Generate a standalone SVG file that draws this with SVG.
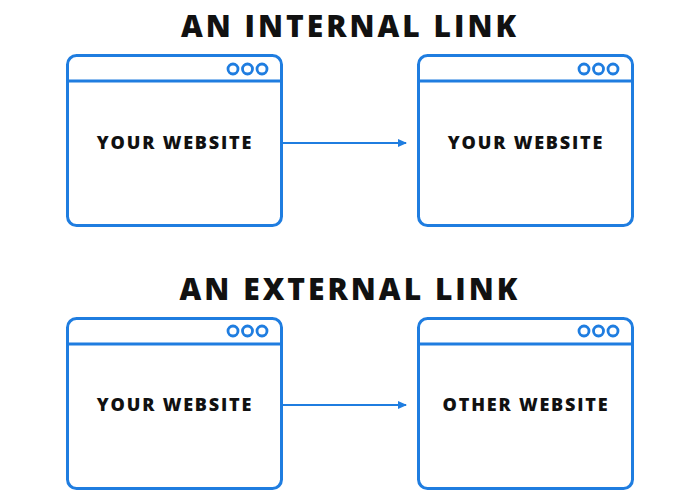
<svg xmlns="http://www.w3.org/2000/svg" width="700" height="504" viewBox="0 0 700 504">
<style>
.t{font-family:"Open Sans","DejaVu Sans",sans-serif;font-weight:800;fill:#111;text-anchor:middle}
.h{font-size:30px;letter-spacing:3px}
.l{font-size:18px;letter-spacing:1.8px}
.b{fill:none;stroke:#1f7de0;stroke-width:3}
.c{fill:none;stroke:#1f7de0;stroke-width:2.8}
.a{stroke:#1f7de0;stroke-width:2;fill:none}
</style>
<defs><marker id="m" markerWidth="10" markerHeight="10" refX="8" refY="5" orient="auto" markerUnits="userSpaceOnUse"><path d="M0,1 L9,5 L0,9 Z" fill="#1f7de0"/></marker></defs>
<rect width="700" height="504" fill="#fff"/>
<text class="t h" x="350" y="37">AN INTERNAL LINK</text>
<text class="t h" x="350" y="300">AN EXTERNAL LINK</text>
<g id="n1"><rect class="b" x="67.5" y="55.5" width="214" height="170" rx="9"/><line class="b" x1="67.5" y1="81" x2="281.5" y2="81"/><circle class="c" cx="233" cy="69" r="5"/><circle class="c" cx="247.5" cy="69" r="5"/><circle class="c" cx="262" cy="69" r="5"/><text class="t l" x="175" y="149">YOUR WEBSITE</text></g>
<g id="n2"><rect class="b" x="418.5" y="55.5" width="214" height="170" rx="9"/><line class="b" x1="418.5" y1="81" x2="632.5" y2="81"/><circle class="c" cx="584" cy="69" r="5"/><circle class="c" cx="598.5" cy="69" r="5"/><circle class="c" cx="613" cy="69" r="5"/><text class="t l" x="526" y="149">YOUR WEBSITE</text></g>
<g id="n3"><rect class="b" x="67.5" y="318.5" width="214" height="170" rx="9"/><line class="b" x1="67.5" y1="344" x2="281.5" y2="344"/><circle class="c" cx="233" cy="331" r="5"/><circle class="c" cx="247.5" cy="331" r="5"/><circle class="c" cx="262" cy="331" r="5"/><text class="t l" x="175" y="411">YOUR WEBSITE</text></g>
<g id="n4"><rect class="b" x="418.5" y="318.5" width="214" height="170" rx="9"/><line class="b" x1="418.5" y1="344" x2="632.5" y2="344"/><circle class="c" cx="584" cy="331" r="5"/><circle class="c" cx="598.5" cy="331" r="5"/><circle class="c" cx="613" cy="331" r="5"/><text class="t l" x="526" y="411">OTHER WEBSITE</text></g>
<g id="connectors"><line class="a" x1="283" y1="143" x2="406" y2="143" marker-end="url(#m)"/><line class="a" x1="283" y1="405" x2="406" y2="405" marker-end="url(#m)"/></g>
</svg>
